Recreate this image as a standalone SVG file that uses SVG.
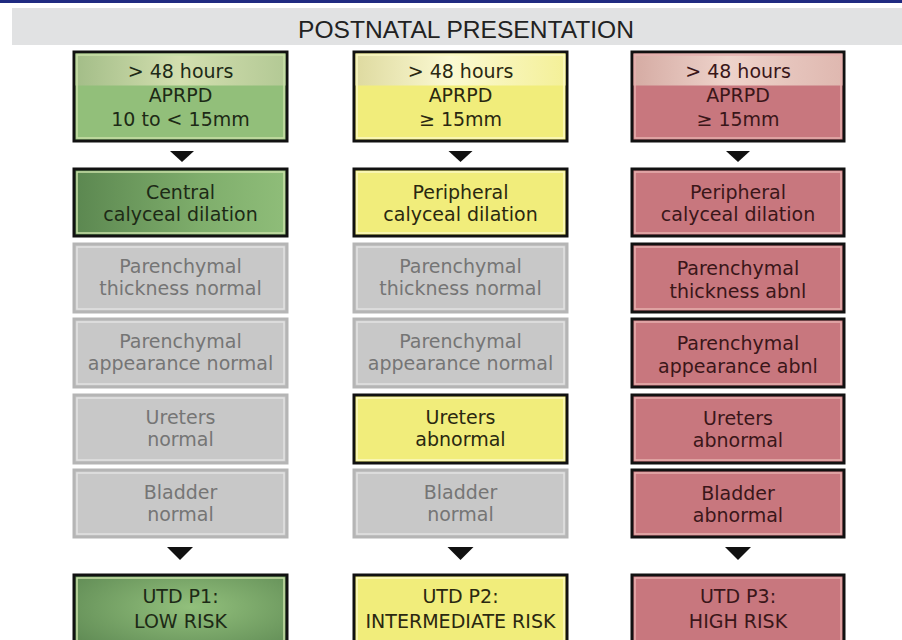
<svg xmlns="http://www.w3.org/2000/svg" width="902" height="640" viewBox="0 0 902 640">
  <defs>
    <style>
      text { font-family: "DejaVu Sans", "Liberation Sans", sans-serif; font-size: 19px; text-anchor: middle; }
      .title { font-family: "Liberation Sans", "DejaVu Sans Condensed", sans-serif; font-size: 24px; fill: #222; }
      .big { font-size: 19px; }
      .ob { stroke: #111; stroke-width: 3; }
      .og { fill: #c8c8c8; stroke: #b5b5b5; stroke-width: 3; }
      .ig { fill: none; stroke: #e2e2e2; stroke-width: 1.5; }
      .iG { fill: none; stroke: #c9dfa8; stroke-width: 1.5; }
      .iY { fill: none; stroke: #fbf9c4; stroke-width: 1.5; }
      .iR { fill: none; stroke: #e6b0ae; stroke-width: 1.5; }
      .tG { fill: #1d2a16; }
      .tY { fill: #2a2810; }
      .tR { fill: #3a1619; }
      .tg { fill: #757575; }
      .arrow { fill: #111; }
    </style>
    <linearGradient id="bandG" x1="0" y1="0" x2="1" y2="0">
      <stop offset="0" stop-color="#a3bd88"/>
      <stop offset="0.5" stop-color="#d3dfaf"/>
      <stop offset="1" stop-color="#b3c995"/>
    </linearGradient>
    <linearGradient id="bandY" x1="0" y1="0" x2="1" y2="0">
      <stop offset="0" stop-color="#dedaa0"/>
      <stop offset="0.45" stop-color="#fbf9d2"/>
      <stop offset="1" stop-color="#f4f098"/>
    </linearGradient>
    <linearGradient id="bandR" x1="0" y1="0" x2="1" y2="0">
      <stop offset="0" stop-color="#d5aba3"/>
      <stop offset="0.45" stop-color="#eed3cb"/>
      <stop offset="1" stop-color="#dfb8b0"/>
    </linearGradient>
    <linearGradient id="darkG" x1="0" y1="0" x2="1" y2="0">
      <stop offset="0" stop-color="#5b8750"/>
      <stop offset="0.6" stop-color="#7fae6c"/>
      <stop offset="1" stop-color="#8fbd79"/>
    </linearGradient>
    <radialGradient id="radG" cx="0.55" cy="0.4" r="0.7">
      <stop offset="0" stop-color="#92c07c"/>
      <stop offset="1" stop-color="#5f8a54"/>
    </radialGradient>
    <path id="tri" d="M-12,0 L12,0 L0,11 Z"/>
    <path id="tri2" d="M-13,0 L13,0 L0,13 Z"/>
  </defs>

  <rect x="0" y="0" width="902" height="640" fill="#ffffff"/>
  <rect x="0" y="0" width="902" height="3" fill="#1f2a80"/>
  <g id="title">
    <rect x="12" y="8" width="890" height="37" fill="#e1e2e3"/>
    <text class="title" x="466" y="38" textLength="336" lengthAdjust="spacingAndGlyphs">POSTNATAL PRESENTATION</text>
  </g>

  <!-- Column 1 (green) -->
  <g id="c1-r1">
    <rect class="ob" x="74" y="52" width="213" height="89" fill="#92bf7a"/>
    <rect x="75.5" y="53.5" width="210" height="32" fill="url(#bandG)"/>
    <rect class="iG" x="77" y="55" width="207" height="83"/>
    <text class="tG" x="180.5" y="78">&gt; 48 hours</text>
    <text class="tG" x="180.5" y="102">APRPD</text>
    <text class="tG" x="180.5" y="126">10 to &lt; 15mm</text>
  </g>
  <g id="c1-r2">
    <rect class="ob" x="74" y="169" width="213" height="67" fill="url(#darkG)"/>
    <rect class="iG" x="77" y="172" width="207" height="61"/>
    <text class="tG" x="180.5" y="199">Central</text>
    <text class="tG" x="180.5" y="221">calyceal dilation</text>
  </g>
  <g id="c1-r3">
    <rect class="og" x="74" y="244" width="213" height="68"/>
    <rect class="ig" x="77" y="247" width="207" height="62"/>
    <text class="tg" x="180.5" y="273">Parenchymal</text>
    <text class="tg" x="180.5" y="295">thickness normal</text>
  </g>
  <g id="c1-r4">
    <rect class="og" x="74" y="319" width="213" height="68"/>
    <rect class="ig" x="77" y="322" width="207" height="62"/>
    <text class="tg" x="180.5" y="348">Parenchymal</text>
    <text class="tg" x="180.5" y="370">appearance normal</text>
  </g>
  <g id="c1-r5">
    <rect class="og" x="74" y="395" width="213" height="68"/>
    <rect class="ig" x="77" y="398" width="207" height="62"/>
    <text class="tg" x="180.5" y="424">Ureters</text>
    <text class="tg" x="180.5" y="446">normal</text>
  </g>
  <g id="c1-r6">
    <rect class="og" x="74" y="470" width="213" height="67"/>
    <rect class="ig" x="77" y="473" width="207" height="61"/>
    <text class="tg" x="180.5" y="499">Bladder</text>
    <text class="tg" x="180.5" y="521">normal</text>
  </g>
  <g id="c1-r7">
    <rect class="ob" x="74" y="575" width="213" height="80" fill="url(#radG)"/>
    <rect class="iG" x="77" y="578" width="207" height="74"/>
    <text class="tG big" x="180.5" y="603">UTD P1:</text>
    <text class="tG big" x="180.5" y="628">LOW RISK</text>
  </g>

  <!-- Column 2 (yellow) -->
  <g id="c2-r1">
    <rect class="ob" x="354" y="52" width="213" height="89" fill="#f1ed7b"/>
    <rect x="355.5" y="53.5" width="210" height="32" fill="url(#bandY)"/>
    <rect class="iY" x="357" y="55" width="207" height="83"/>
    <text class="tY" x="460.5" y="78">&gt; 48 hours</text>
    <text class="tY" x="460.5" y="102">APRPD</text>
    <text class="tY" x="460.5" y="126">≥ 15mm</text>
  </g>
  <g id="c2-r2">
    <rect class="ob" x="354" y="169" width="213" height="67" fill="#f1ed7b"/>
    <rect class="iY" x="357" y="172" width="207" height="61"/>
    <text class="tY" x="460.5" y="199">Peripheral</text>
    <text class="tY" x="460.5" y="221">calyceal dilation</text>
  </g>
  <g id="c2-r3">
    <rect class="og" x="354" y="244" width="213" height="68"/>
    <rect class="ig" x="357" y="247" width="207" height="62"/>
    <text class="tg" x="460.5" y="273">Parenchymal</text>
    <text class="tg" x="460.5" y="295">thickness normal</text>
  </g>
  <g id="c2-r4">
    <rect class="og" x="354" y="319" width="213" height="68"/>
    <rect class="ig" x="357" y="322" width="207" height="62"/>
    <text class="tg" x="460.5" y="348">Parenchymal</text>
    <text class="tg" x="460.5" y="370">appearance normal</text>
  </g>
  <g id="c2-r5">
    <rect class="ob" x="354" y="395" width="213" height="68" fill="#f1ed7b"/>
    <rect class="iY" x="357" y="398" width="207" height="62"/>
    <text class="tY" x="460.5" y="424">Ureters</text>
    <text class="tY" x="460.5" y="446">abnormal</text>
  </g>
  <g id="c2-r6">
    <rect class="og" x="354" y="470" width="213" height="67"/>
    <rect class="ig" x="357" y="473" width="207" height="61"/>
    <text class="tg" x="460.5" y="499">Bladder</text>
    <text class="tg" x="460.5" y="521">normal</text>
  </g>
  <g id="c2-r7">
    <rect class="ob" x="354" y="575" width="213" height="80" fill="#f1ed7b"/>
    <rect class="iY" x="357" y="578" width="207" height="74"/>
    <text class="tY big" x="460.5" y="603">UTD P2:</text>
    <text class="tY big" x="460.5" y="628" textLength="190" lengthAdjust="spacingAndGlyphs">INTERMEDIATE RISK</text>
  </g>

  <!-- Column 3 (red) -->
  <g id="c3-r1">
    <rect class="ob" x="632" y="52" width="212" height="89" fill="#c8777e"/>
    <rect x="633.5" y="53.5" width="209" height="32" fill="url(#bandR)"/>
    <rect class="iR" x="635" y="55" width="206" height="83"/>
    <text class="tR" x="738" y="78">&gt; 48 hours</text>
    <text class="tR" x="738" y="102">APRPD</text>
    <text class="tR" x="738" y="126">≥ 15mm</text>
  </g>
  <g id="c3-r2">
    <rect class="ob" x="632" y="169" width="212" height="67" fill="#c8777e"/>
    <rect class="iR" x="635" y="172" width="206" height="61"/>
    <text class="tR" x="738" y="199">Peripheral</text>
    <text class="tR" x="738" y="221">calyceal dilation</text>
  </g>
  <g id="c3-r3">
    <rect class="ob" x="632" y="244" width="212" height="68" fill="#c8777e"/>
    <rect class="iR" x="635" y="247" width="206" height="62"/>
    <text class="tR" x="738" y="275">Parenchymal</text>
    <text class="tR" x="738" y="298">thickness abnl</text>
  </g>
  <g id="c3-r4">
    <rect class="ob" x="632" y="319" width="212" height="68" fill="#c8777e"/>
    <rect class="iR" x="635" y="322" width="206" height="62"/>
    <text class="tR" x="738" y="350">Parenchymal</text>
    <text class="tR" x="738" y="373">appearance abnl</text>
  </g>
  <g id="c3-r5">
    <rect class="ob" x="632" y="395" width="212" height="68" fill="#c8777e"/>
    <rect class="iR" x="635" y="398" width="206" height="62"/>
    <text class="tR" x="738" y="425">Ureters</text>
    <text class="tR" x="738" y="447">abnormal</text>
  </g>
  <g id="c3-r6">
    <rect class="ob" x="632" y="470" width="212" height="67" fill="#c8777e"/>
    <rect class="iR" x="635" y="473" width="206" height="61"/>
    <text class="tR" x="738" y="500">Bladder</text>
    <text class="tR" x="738" y="522">abnormal</text>
  </g>
  <g id="c3-r7">
    <rect class="ob" x="632" y="575" width="212" height="80" fill="#c8777e"/>
    <rect class="iR" x="635" y="578" width="206" height="74"/>
    <text class="tR big" x="738" y="603">UTD P3:</text>
    <text class="tR big" x="738" y="628">HIGH RISK</text>
  </g>

  <!-- Connectors -->
  <g id="connectors" class="arrow">
    <use href="#tri" x="182" y="151"/>
    <use href="#tri" x="460.5" y="151"/>
    <use href="#tri" x="738" y="151"/>
    <use href="#tri2" x="180" y="547"/>
    <use href="#tri2" x="460.5" y="547"/>
    <use href="#tri2" x="738" y="547"/>
  </g>
</svg>
